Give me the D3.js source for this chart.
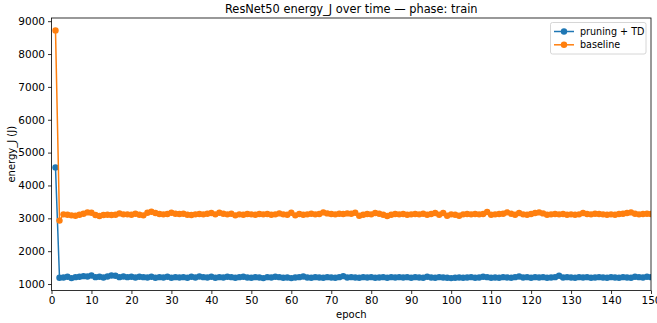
<!DOCTYPE html>
<html><head><meta charset="utf-8">
<script src="https://cdn.jsdelivr.net/npm/d3@7"></script>
<style>body{margin:0;background:#fff}svg{display:block;font-family:"DejaVu Sans",sans-serif}</style>
</head><body><svg id="c" width="657" height="323"></svg>
<script>
const title = "ResNet50 energy_J over time — phase: train";
const xLabel = "epoch";
const yLabel = "energy_J (J)";
const seriesNames = ["pruning + TD", "baseline"];
const seriesColors = ["#1f77b4", "#ff7f0e"];
const xTicks = d3.range(0, 151, 10);
const yTicks = [1000,2000,3000,4000,5000,6000,7000,8000,9000];
const epochs = d3.range(1, 151);
const pruningTD = [4550,1190,1200,1220,1180,1210,1220,1240,1230,1260,1210,1220,1200,1230,1260,1250,1210,1230,1210,1220,
1200,1220,1210,1200,1220,1190,1210,1200,1220,1190,1210,1200,1210,1190,1220,1200,1230,1210,1200,1220,
1190,1210,1200,1220,1210,1190,1210,1220,1200,1190,1210,1200,1180,1210,1200,1220,1210,1190,1200,1180,
1200,1210,1230,1200,1190,1210,1200,1190,1210,1200,1190,1210,1240,1200,1210,1200,1190,1210,1200,1210,
1190,1200,1210,1190,1210,1200,1210,1200,1210,1190,1210,1200,1190,1220,1200,1190,1210,1200,1190,1180,
1190,1200,1190,1200,1210,1190,1200,1220,1210,1190,1200,1190,1210,1200,1190,1210,1230,1200,1210,1190,
1210,1200,1210,1190,1200,1210,1250,1200,1210,1200,1190,1210,1200,1210,1190,1200,1210,1200,1190,1210,
1200,1190,1210,1200,1190,1220,1210,1200,1220,1210];
const baseline = [8720,2930,3120,3110,3090,3080,3110,3140,3180,3170,3100,3070,3100,3110,3100,3110,3150,3120,3120,3110,
3140,3110,3090,3170,3200,3160,3130,3120,3130,3170,3140,3130,3140,3110,3100,3120,3130,3120,3140,3160,
3120,3170,3140,3120,3140,3090,3120,3110,3130,3120,3110,3130,3120,3130,3110,3120,3150,3120,3110,3170,
3090,3130,3110,3120,3140,3120,3130,3180,3150,3130,3120,3140,3130,3150,3140,3170,3080,3110,3130,3120,
3160,3140,3110,3070,3110,3130,3120,3130,3110,3120,3130,3120,3140,3110,3130,3160,3110,3160,3080,3120,
3110,3080,3120,3130,3120,3130,3120,3130,3190,3110,3120,3130,3140,3180,3140,3110,3160,3120,3110,3130,
3160,3180,3150,3110,3120,3130,3120,3130,3110,3120,3110,3120,3160,3130,3120,3140,3130,3120,3110,3120,
3110,3130,3140,3160,3180,3140,3120,3130,3140,3130];
const seriesValues = [pruningTD, baseline];

const svg = d3.select("#c");
const L = 51.5, R = 651, T = 18, B = 290.5;
const allV = pruningTD.concat(baseline);
const vmin = d3.min(allV), vmax = d3.max(allV), pad = (vmax - vmin) * 0.05;
const x = d3.scaleLinear().domain([0, 150]).range([L, R]);
const y = d3.scaleLinear().domain([vmin - pad, vmax + pad]).range([B, T]);

const gx = svg.append("g").attr("transform", `translate(0,${B})`)
  .call(d3.axisBottom(x).tickValues(xTicks).tickSize(3.5).tickPadding(3).tickFormat(d3.format("d")));
const gy = svg.append("g").attr("transform", `translate(${L},0)`)
  .call(d3.axisLeft(y).tickValues(yTicks).tickSize(3.5).tickPadding(3).tickFormat(d3.format("d")));
[gx, gy].forEach(g => {
  g.select(".domain").remove();
  g.selectAll("text").attr("font-size", 10.5).attr("fill", "#000").attr("font-family", "DejaVu Sans");
  g.selectAll("line").attr("stroke", "#000").attr("stroke-width", 0.8);
});

const clip = svg.append("defs").append("clipPath").attr("id", "clip")
  .append("rect").attr("x", L).attr("y", T).attr("width", R - L).attr("height", B - T);
const plot = svg.append("g").attr("clip-path", "url(#clip)");
const line = d3.line().x((d, i) => x(epochs[i])).y(d => y(d));
seriesValues.forEach((vals, s) => {
  const g = plot.append("g");
  g.append("path").attr("d", line(vals)).attr("fill", "none")
    .attr("stroke", seriesColors[s]).attr("stroke-width", 1.5);
  g.selectAll("circle").data(vals).join("circle")
    .attr("cx", (d, i) => x(epochs[i])).attr("cy", d => y(d)).attr("r", 3.2)
    .attr("fill", seriesColors[s]);
});

svg.append("rect").attr("x", L).attr("y", T).attr("width", R - L).attr("height", B - T)
  .attr("fill", "none").attr("stroke", "#000").attr("stroke-width", 0.8);

svg.append("text").attr("x", (L + R) / 2).attr("y", 13).attr("text-anchor", "middle")
  .attr("font-size", 11.4).attr("fill", "#000").text(title);
svg.append("text").attr("x", (L + R) / 2).attr("y", 318).attr("text-anchor", "middle")
  .attr("font-size", 10).attr("fill", "#000").text(xLabel);
svg.append("text").attr("transform", `translate(15,${(T + B) / 2}) rotate(-90)`).attr("text-anchor", "middle")
  .attr("font-size", 10).attr("fill", "#000").text(yLabel);

const lg = svg.append("g");
lg.append("rect").attr("x", 550.5).attr("y", 22.5).attr("width", 95.5).attr("height", 31.5).attr("rx", 2)
  .attr("fill", "#fff").attr("fill-opacity", 0.8).attr("stroke", "#ccc").attr("stroke-width", 0.8);
seriesNames.forEach((n, i) => {
  const yy = 31.5 + i * 13.3;
  lg.append("line").attr("x1", 554).attr("x2", 574).attr("y1", yy).attr("y2", yy)
    .attr("stroke", seriesColors[i]).attr("stroke-width", 1.5);
  lg.append("circle").attr("cx", 564).attr("cy", yy).attr("r", 3.2).attr("fill", seriesColors[i]);
  lg.append("text").attr("x", 580).attr("y", yy + 3.6).attr("font-size", 9.6).attr("fill", "#000").text(n);
});
</script></body></html>
